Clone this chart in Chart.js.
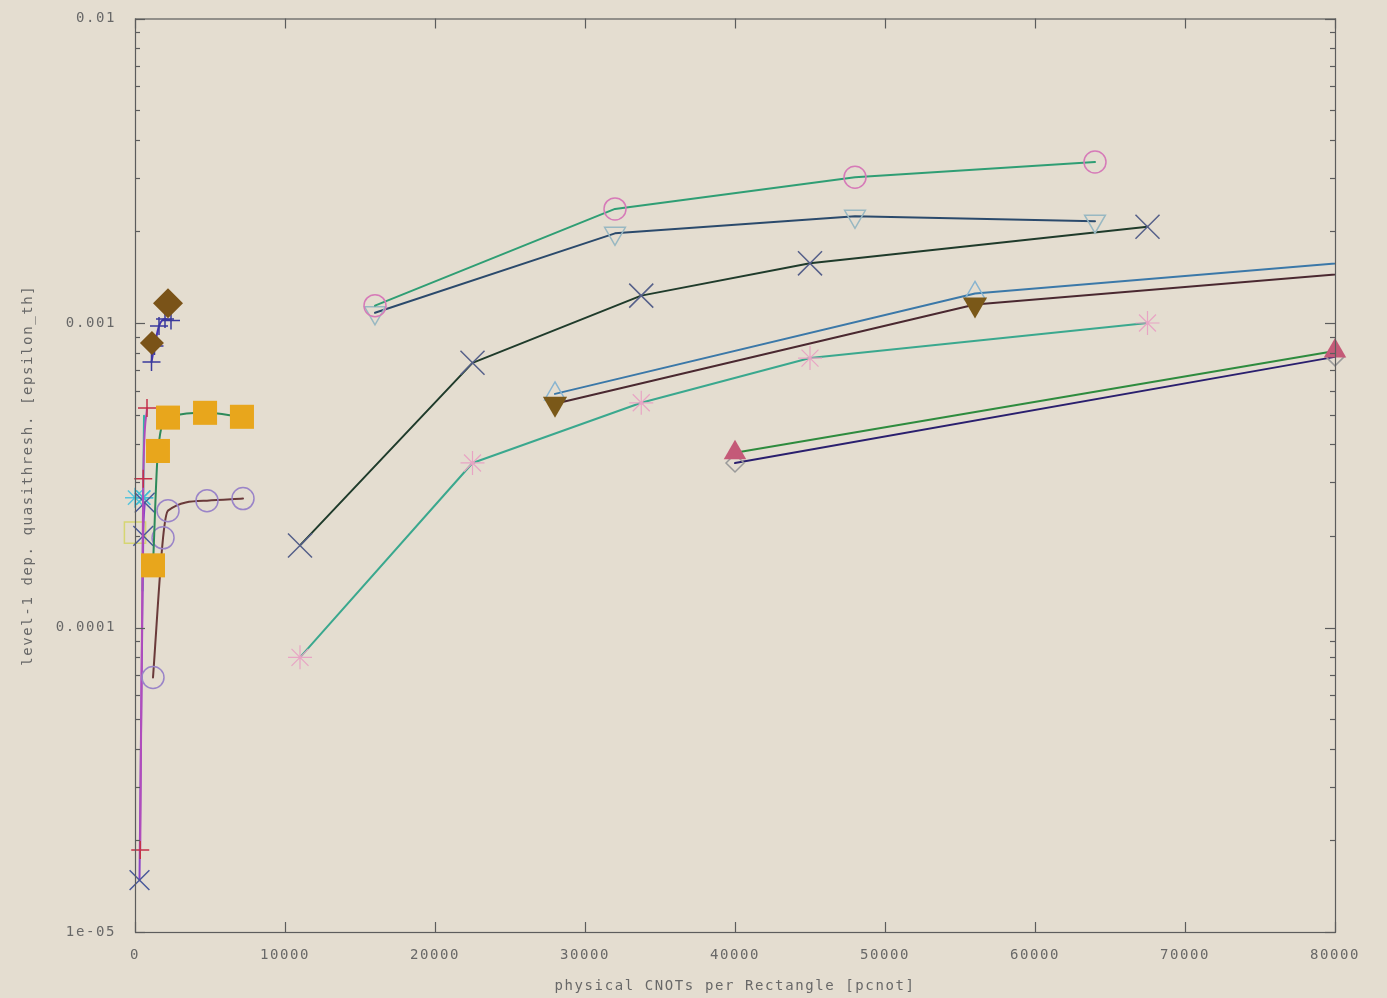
<!DOCTYPE html>
<html>
<head>
<meta charset="utf-8">
<title>level-1 quasithreshold vs physical CNOTs</title>
<script src="https://cdn.jsdelivr.net/npm/chart.js@4.4.1/dist/chart.umd.min.js"></script>
<style>
  html, body { margin: 0; padding: 0; background: #e4ddd0; }
  #wrap { width: 1387px; height: 998px; }
</style>
</head>
<body>
<div id="wrap"><canvas id="c" width="1387" height="998"></canvas></div>
<script>
// ---- axis ticks ----
const xTicks = [0, 10000, 20000, 30000, 40000, 50000, 60000, 70000, 80000];
const yTickValues = [1e-5, 1e-4, 1e-3, 1e-2];
const yTickLabels = ['1e-05', '0.0001', '0.001', '0.01'];

// ---- large codes ----
const circX = [16000, 32000, 48000, 64000];
const circY = [0.00114, 0.00237, 0.00301, 0.00338];
const triDownX = [16000, 32000, 48000, 64000];
const triDownY = [0.00108, 0.00197, 0.00224, 0.00216];
const crossX = [11000, 22500, 33750, 45000, 67500];
const crossY = [0.000186, 0.00074, 0.00123, 0.00157, 0.00207];
const starX = [11000, 22500, 33750, 45000, 67500];
const starY = [0.0000798, 0.000347, 0.000547, 0.000767, 0.001];
const triUpX = [28000, 56000, 84000];
const triUpY = [0.000585, 0.00125, 0.00163];
const triFillX = [28000, 56000, 84000];
const triFillY = [0.000543, 0.00115, 0.0015];
const redTriX = [40000, 80000];
const redTriY = [0.000375, 0.000809];
const openDiaX = [40000, 80000];
const openDiaY = [0.000347, 0.000774];

// ---- small codes near the origin ----
const sqX = [1200, 1530, 2200, 4670, 7130];
const sqY = [0.00016, 0.00038, 0.000489, 0.000507, 0.000492];
const ringX = [1200, 1870, 2200, 4800, 7200];
const ringY = [0.0000685, 0.000197, 0.000242, 0.000261, 0.000265];
const brownDiaX = [1130, 2200];
const brownDiaY = [0.000859, 0.00116];
const plusX = [1100, 1300, 1600, 2000, 2400];
const plusY = [0.000745, 0.000841, 0.000977, 0.00103, 0.00102];
const violetX = [300, 550, 650];
const violetY = [0.0000148, 0.0002, 0.000257];
const redPlusX = [350, 550, 800];
const redPlusY = [0.0000186, 0.000308, 0.000526];
const tealX = [500, 550, 600];
const tealY = [0.000132, 0.000267, 0.000496];
const asterX = [0, 550];
const asterY = [0.000267, 0.000267];
const boxX = [0];
const boxY = [0.000205];

// ---- styling ----
const BG = '#e4ddd0';
const TXT = '#686868';
const FONT = { family: "'DejaVu Sans Mono', 'Liberation Mono', monospace", size: 14 };
const NONE = 'rgba(0,0,0,0)';

function pts(xs, ys) { return xs.map((x, i) => ({ x, y: ys[i] })); }
function series(label, xs, ys, opts) {
  return Object.assign({
    label,
    data: pts(xs, ys),
    showLine: true,
    borderWidth: 2,
    pointBorderWidth: 1.5,
    backgroundColor: NONE,
    clip: false,
    tension: 0
  }, opts);
}
const smooth = { cubicInterpolationMode: 'monotone' };

const datasets = [
  // origin cluster
  series('d3 brown', brownDiaX, brownDiaY, { showLine: false, pointStyle: 'rectRot', pointRadius: [12, 15], pointBorderWidth: 0, pointBackgroundColor: '#7a5318', borderColor: '#7a5318' }),
  series('d3 plus', plusX, plusY, Object.assign({ borderColor: '#4636b4', pointStyle: 'cross', pointRadius: 9, pointBorderColor: '#3a3a9c' }, smooth)),
  series('d3 squares', sqX, sqY, Object.assign({ borderColor: '#2d8a5a', pointStyle: 'rect', pointRadius: 17, pointBorderWidth: 0, pointBackgroundColor: '#e8a61c' }, smooth)),
  series('d3 rings', ringX, ringY, Object.assign({ borderColor: '#6a3a3a', pointStyle: 'circle', pointRadius: 11, pointBorderColor: '#9a84c8' }, smooth)),
  series('d3 red plus', redPlusX, redPlusY, Object.assign({ borderColor: '#b04cbc', pointStyle: 'cross', pointRadius: 9, pointBorderColor: '#c43048' }, smooth)),
  series('d3 violet', violetX, violetY, Object.assign({ borderColor: '#8c44c8', pointStyle: 'crossRot', pointRadius: 14, pointBorderColor: '#4a5a9a' }, smooth)),
  series('d3 teal', tealX, tealY, Object.assign({ borderColor: '#34b4a4', pointStyle: 'star', pointRadius: [0, 10, 0], pointBorderColor: '#40bcd0' }, smooth)),
  series('d3 aster', asterX, asterY, { showLine: false, pointStyle: 'star', pointRadius: 10, pointBorderColor: '#58c4dc' }),
  series('d3 box', boxX, boxY, { showLine: false, pointStyle: 'rect', pointRadius: 15, pointBorderColor: '#d6d672' }),

  // larger codes
  series('circles', circX, circY, { borderColor: '#2f9e74', pointStyle: 'circle', pointRadius: 11, pointBorderColor: '#d67ab8' }),
  series('triangles down', triDownX, triDownY, { borderColor: '#2b4a6c', pointStyle: 'triangle', pointRotation: 180, pointRadius: 12, pointBorderColor: '#98b8c2' }),
  series('crosses', crossX, crossY, { borderColor: '#1f3b2b', pointStyle: 'crossRot', pointRadius: 17, pointBorderColor: '#56608a' }),
  series('stars', starX, starY, { borderColor: '#3aa88e', pointStyle: 'star', pointRadius: 12, pointBorderColor: '#e8a4c4', pointBorderWidth: 1.2 }),
  series('filled triangles down', triFillX, triFillY, { clip: 0, borderColor: '#4a2830', pointStyle: 'triangle', pointRotation: 180, pointRadius: 14, pointBorderWidth: 0, pointBackgroundColor: '#7a5818' }),
  series('triangles up', triUpX, triUpY, { clip: 0, borderColor: '#3b78a8', pointStyle: 'triangle', pointRadius: 12, pointBorderColor: '#88b4d0' }),
  series('red triangles', redTriX, redTriY, { borderColor: '#2e8b3e', pointStyle: 'triangle', pointRadius: 13, pointBorderWidth: 0, pointBackgroundColor: '#c45a78' }),
  series('open diamonds', openDiaX, openDiaY, { borderColor: '#2a1f6e', pointStyle: 'rectRot', pointRadius: 9, pointBorderColor: '#9a9a9a' })
];

// background, border and inward tick marks on all four sides
const framePlugin = {
  id: 'frame',
  beforeDraw(chart) {
    const { ctx, width, height } = chart;
    ctx.save();
    ctx.fillStyle = BG;
    ctx.fillRect(0, 0, width, height);
    ctx.restore();
    ctx.letterSpacing = '1.6px';
  },
  afterDatasetsDraw(chart) {
    const { ctx, chartArea: a, scales: { x, y } } = chart;
    ctx.save();
    ctx.letterSpacing = '0px';
    ctx.strokeStyle = '#5c5c5c';
    ctx.lineWidth = 1.2;
    ctx.strokeRect(a.left + 0.5, a.top + 0.5, a.right - a.left, a.bottom - a.top);
    const seg = (x1, y1, x2, y2) => { ctx.beginPath(); ctx.moveTo(x1, y1); ctx.lineTo(x2, y2); ctx.stroke(); };
    xTicks.forEach(v => {
      const px = Math.round(x.getPixelForValue(v)) + 0.5;
      seg(px, a.bottom, px, a.bottom - 10);
      seg(px, a.top, px, a.top + 10);
    });
    for (let d = -5; d <= -2; d++) {
      for (let m = 1; m <= 9; m++) {
        const v = m * Math.pow(10, d);
        if (v > 1e-2 * 1.0001) break;
        const py = Math.round(y.getPixelForValue(v)) + 0.5;
        const len = m === 1 ? 10 : 5;
        seg(a.left, py, a.left + len, py);
        seg(a.right, py, a.right - len, py);
      }
    }
    ctx.restore();
  }
};

new Chart(document.getElementById('c'), {
  type: 'scatter',
  data: { datasets },
  plugins: [framePlugin],
  options: {
    responsive: false,
    animation: false,
    events: [],
    devicePixelRatio: 1,
    layout: { padding: { left: 0, top: 17, right: 52, bottom: 0 } },
    plugins: { legend: { display: false }, tooltip: { enabled: false }, title: { display: false } },
    elements: { line: { borderJoinStyle: 'round', borderCapStyle: 'round' } },
    scales: {
      x: {
        type: 'linear', min: 0, max: 80000,
        afterBuildTicks: s => { s.ticks = xTicks.map(v => ({ value: v })); },
        afterFit: s => { s.height = 66; s.paddingLeft = 0; s.paddingRight = 0; },
        grid: { display: false }, border: { display: false },
        ticks: { color: TXT, font: FONT, padding: 7, maxRotation: 0, autoSkip: false, callback: v => String(v) },
        title: { display: true, text: 'physical CNOTs per Rectangle [pcnot]', color: TXT, font: FONT, padding: { top: 0, bottom: 3 } }
      },
      y: {
        type: 'logarithmic', min: 1e-5, max: 1e-2,
        afterBuildTicks: s => { s.ticks = yTickValues.map(v => ({ value: v })); },
        afterFit: s => { s.width = 135; s.paddingTop = 0; s.paddingBottom = 0; },
        grid: { display: false }, border: { display: false },
        ticks: { color: TXT, font: FONT, padding: 11, autoSkip: false,
                 callback: v => { const i = yTickValues.findIndex(t => Math.abs(t - v) / t < 1e-6); return i >= 0 ? yTickLabels[i] : ''; } },
        title: { display: true, text: 'level-1 dep. quasithresh. [epsilon_th]', color: TXT, font: FONT, padding: { top: 20, bottom: 0 } }
      }
    }
  }
});
</script>
</body>
</html>
